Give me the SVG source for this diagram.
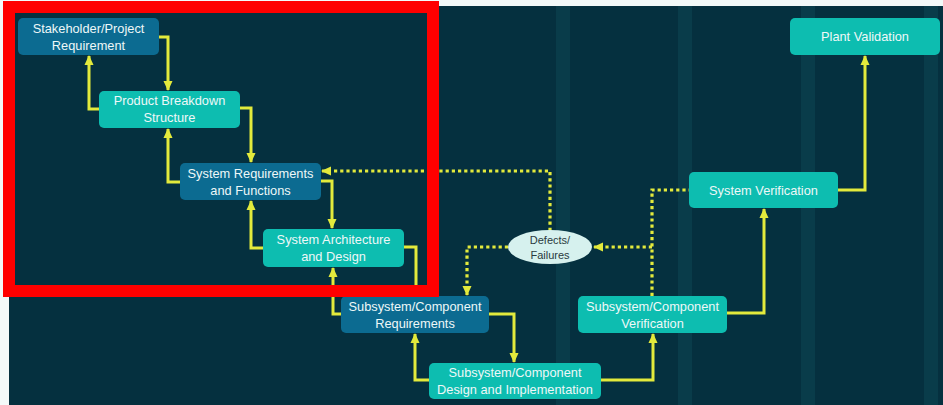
<svg xmlns="http://www.w3.org/2000/svg" width="943" height="405" viewBox="0 0 943 405">
<style>
.bg{fill:#05303f}
.stripe{fill:#093c4a}
.blue{fill:#0c6b91}
.teal{fill:#0dbdb0}
.lbl{font-family:"Liberation Sans",Arial,sans-serif;font-size:12.8px;fill:#eef8f8;text-anchor:middle}
.dlbl{font-family:"Liberation Sans",Arial,sans-serif;font-size:11px;fill:#2a3a40;text-anchor:middle}
.ln{fill:none;stroke:#e3ea3c;stroke-width:3;stroke-linejoin:miter}
.dot{fill:none;stroke:#e3ea3c;stroke-width:3.2;stroke-dasharray:3.2 3}
</style>
<defs>
<marker id="ah" markerUnits="userSpaceOnUse" markerWidth="10" markerHeight="10" viewBox="0 0 10 10" refX="9" refY="5" orient="auto">
<path d="M0,0.5 L10,5 L0,9.5 Z" fill="#e3ea3c"/>
</marker>
</defs>
<rect x="0" y="0" width="943" height="405" fill="#f3f9f9"/>
<rect class="bg" x="9" y="6" width="934" height="399"/>
<rect class="stripe" x="556" y="6" width="14" height="399"/>
<rect class="stripe" x="678" y="6" width="14" height="399"/>
<rect class="stripe" x="801" y="6" width="14" height="399"/>
<rect class="stripe" x="924" y="6" width="14" height="399"/>
<g id="connectors">
<path class="ln" d="M159,37 H168 V90" marker-end="url(#ah)"/>
<path class="ln" d="M99,109 H89 V56" marker-end="url(#ah)"/>
<path class="ln" d="M240,108 H251 V162" marker-end="url(#ah)"/>
<path class="ln" d="M180,182 H168 V129" marker-end="url(#ah)"/>
<path class="ln" d="M321,181 H332 V228" marker-end="url(#ah)"/>
<path class="ln" d="M263,248 H251 V201" marker-end="url(#ah)"/>
<path class="ln" d="M404,247 H416 V295" marker-end="url(#ah)"/>
<path class="ln" d="M341,314 H333 V268" marker-end="url(#ah)"/>
<path class="ln" d="M489,314 H514 V362" marker-end="url(#ah)"/>
<path class="ln" d="M429,380 H415 V334" marker-end="url(#ah)"/>
<path class="ln" d="M601,380 H653 V334" marker-end="url(#ah)"/>
<path class="ln" d="M727,313 H764 V209" marker-end="url(#ah)"/>
<path class="ln" d="M838,190 H865 V56" marker-end="url(#ah)"/>
<path class="dot" d="M652,296 V190 H689"/>
<path class="dot" d="M652,247 H594" marker-end="url(#ah)"/>
<path class="dot" d="M550,231 V171 H322" marker-end="url(#ah)"/>
<path class="dot" d="M508,247 H467 V295" marker-end="url(#ah)"/>
</g>
<g id="n-stakeholder"><rect class="blue" x="18" y="18" width="141" height="37" rx="5"/><text class="lbl" x="88.5" y="33">Stakeholder/Project</text><text class="lbl" x="88.5" y="50">Requirement</text></g>
<g id="n-pbs"><rect class="teal" x="99" y="91" width="141" height="37" rx="5"/><text class="lbl" x="169.5" y="105">Product Breakdown</text><text class="lbl" x="169.5" y="122">Structure</text></g>
<g id="n-sysreq"><rect class="blue" x="180" y="163" width="141" height="37" rx="5"/><text class="lbl" x="250.5" y="178">System Requirements</text><text class="lbl" x="250.5" y="195">and Functions</text></g>
<g id="n-sysarch"><rect class="teal" x="263" y="229" width="141" height="38" rx="5"/><text class="lbl" x="333.5" y="244">System Architecture</text><text class="lbl" x="333.5" y="261">and Design</text></g>
<g id="n-subreq"><rect class="blue" x="341" y="296" width="148" height="37" rx="5"/><text class="lbl" x="415" y="311">Subsystem/Component</text><text class="lbl" x="415" y="328">Requirements</text></g>
<g id="n-design"><rect class="teal" x="429" y="363" width="172" height="36" rx="5"/><text class="lbl" x="515" y="377">Subsystem/Component</text><text class="lbl" x="515" y="394">Design and Implementation</text></g>
<g id="n-subver"><rect class="teal" x="578" y="296" width="149" height="37" rx="5"/><text class="lbl" x="652.5" y="311">Subsystem/Component</text><text class="lbl" x="652.5" y="328">Verification</text></g>
<g id="n-sysver"><rect class="teal" x="689" y="172" width="149" height="36" rx="5"/><text class="lbl" x="763.5" y="195">System Verification</text></g>
<g id="n-plant"><rect class="teal" x="790" y="18" width="150" height="37" rx="5"/><text class="lbl" x="865" y="41">Plant Validation</text></g>
<g id="n-defects"><ellipse cx="550" cy="247" rx="42" ry="17" fill="#d6f1ee"/><text class="dlbl" x="550" y="244">Defects/</text><text class="dlbl" x="550" y="259">Failures</text></g>
<rect x="9" y="7" width="424" height="284" fill="none" stroke="#ff0000" stroke-width="12"/>
</svg>
